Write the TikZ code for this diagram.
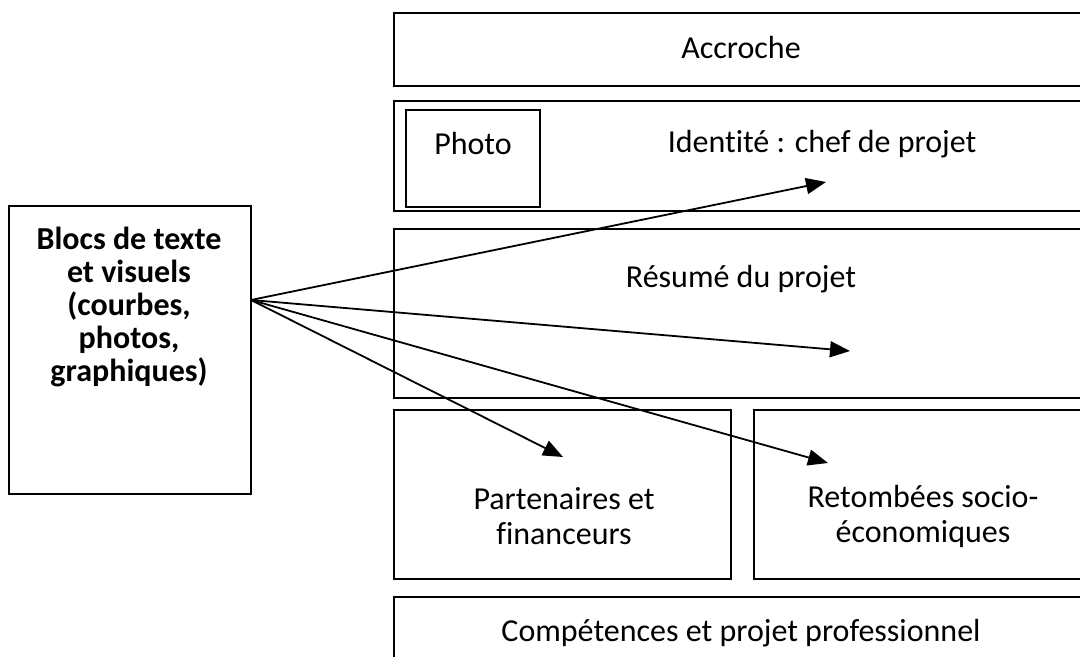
\documentclass[tikz,border=0pt]{standalone}
\usepackage{fontspec}
\setmainfont{Carlito}[Ligatures=NoCommon]
\usetikzlibrary{positioning,calc,arrows.meta}

\tikzset{
  cadre/.style={draw, line width=0.9pt},
  txt/.style={font=\fontsize{16}{17.5}\selectfont, align=center, inner sep=0pt},
  gras/.style={font=\fontsize{16}{16.5}\selectfont\bfseries, align=center, inner sep=0pt},
  fleche/.style={line width=0.9pt, -{Triangle[length=10pt,width=8pt]}}
}

\begin{document}
\begin{tikzpicture}[x=0.5pt, y=-0.5pt]
    \useasboundingbox (0,0) rectangle (1080,657);
    \clip (0,0) rectangle (1080,657);

    % Frames of the poster
    \draw[cadre] (394,13) rectangle (1090,86);
    \draw[cadre] (394,101) rectangle (1090,211);
    \draw[cadre] (406,110) rectangle (540,207);
    \draw[cadre] (394,229) rectangle (1090,398);
    \draw[cadre] (394,410) rectangle (731,579);
    \draw[cadre] (754,410) rectangle (1090,579);
    \draw[cadre] (394,597) rectangle (1090,680);
    \draw[cadre] (9,206) rectangle (251,494);

    % Texts
    \node[txt] (accroche) at (741,48) {Accroche};
    \node[txt] (photo) at (473,144) {Photo};
    \node[txt] (identite) at (822,144) {Identité~: chef de projet};
    \node[txt] (resume) at (741,279) {Résumé du projet};
    \node[txt] (partenaires) at (564,516) {Partenaires et\\financeurs};
    \node[txt] (retombees) at (923,516) {Retombées socio-\\économiques};
    \node[txt] (competences) at (741,633) {Compétences et projet professionnel};
    \node[gras] (blocs) at (129,307) {Blocs de texte\\et visuels\\(courbes,\\photos,\\graphiques)};

    % Arrows
    \coordinate (src) at (251,300);
    \coordinate (versIdentite) at (826,182);
    \coordinate (versResume) at (850,351);
    \coordinate (versPartenaires) at (563,457);
    \coordinate (versRetombees) at (828,463);
    \draw[fleche] (src) -- (versIdentite);
    \draw[fleche] (src) -- (versResume);
    \draw[fleche] (src) -- (versPartenaires);
    \draw[fleche] (src) -- (versRetombees);
\end{tikzpicture}
\end{document}
